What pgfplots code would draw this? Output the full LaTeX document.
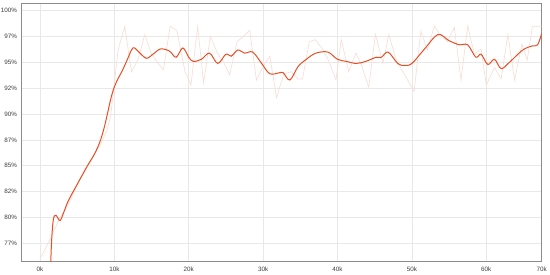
\documentclass[border=0pt]{standalone}
\usepackage{fontspec}
\setmainfont{Liberation Sans}
\usepackage{pgfplots}
\pgfplotsset{compat=1.18}

\definecolor{smoothline}{RGB}{232,78,36}
\definecolor{rawline}{RGB}{246,222,214}
\definecolor{gridc}{RGB}{232,232,232}
\definecolor{spine}{RGB}{140,140,140}
\definecolor{ticktext}{RGB}{60,60,60}

\begin{document}
\begin{tikzpicture}
\useasboundingbox (-21pt,-13.3pt) rectangle (529pt,261.7pt);
\begin{axis}[
    at={(0,0)}, anchor=south west,
    scale only axis,
    width=520.7pt, height=258.2pt,
    xmin=-2.55, xmax=67.45,
    ymin=75.72, ymax=100.7,
    xtick={0,10,20,30,40,50,60,67.45},
    xticklabels={0k,10k,20k,30k,40k,50k,60k,70k},
    ytick={77.5,80,82.5,85,87.5,90,92.5,95,97.5,100},
    yticklabels={77\%,80\%,82\%,85\%,87\%,90\%,92\%,95\%,97\%,100\%},
    major tick length=0pt,
    grid=major,
    major grid style={gridc, line width=0.6pt},
    axis line style={spine, line width=0.7pt},
    tick label style={font=\fontsize{6.3}{7}\selectfont, text=ticktext},
    xticklabel style={yshift=-1.5pt},
    yticklabel style={xshift=-0.5pt},
    clip=true,
]
% raw values
\addplot[rawline, line width=0.65pt] coordinates {
(0,76.0) (0.9,77.2) (1.8,78.6) (2.7,80.0) (3.6,81.0) (4.5,82.3) (5.4,83.7)
(6.3,84.8) (7.2,86.0) (8.1,87.0) (9.0,88.4) (9.5,89.8) (10.5,96.2) (11.4,98.5)
(12.3,94.1) (13.2,95.3) (14.1,97.7) (15.0,95.8) (15.8,95.0) (16.6,94.3)
(17.5,98.5) (18.4,98.1) (19.5,94.1) (20.3,92.8) (21.2,98.5) (22.0,93.0)
(22.9,97.5) (23.8,96.0) (24.7,95.0) (25.5,93.8) (26.5,97.0) (27.3,97.5)
(28.2,98.1) (29.1,93.3) (30.0,94.6) (30.9,95.6) (31.8,91.6) (32.8,93.9)
(33.8,94.1) (34.7,93.4) (35.3,93.4) (36.2,97.0) (37.0,97.2) (37.9,96.4)
(38.8,95.2) (39.8,93.3) (40.5,97.2) (41.5,94.1) (42.5,95.9) (43.3,94.6)
(44.2,92.6) (45.1,97.7) (46.1,94.9) (46.9,97.7) (47.9,95.2) (48.7,94.2)
(49.5,93.2) (50.3,92.2) (51.2,98.0) (52.1,96.2) (53.0,98.5) (53.9,97.6)
(54.8,97.0) (55.7,98.4) (56.6,93.3) (57.5,98.5) (58.4,95.8) (59.3,96.3)
(60.0,92.8) (61.1,94.5) (62.0,93.4) (62.9,97.7) (63.8,93.3) (64.8,96.8)
(65.5,95.2) (66.2,98.5) (67.45,98.5)
};
% smoothed values
\addplot[smoothline, line width=1.0pt, smooth, tension=0.55] coordinates {
(1.35,73.5) (1.55,77.5) (1.8,79.8) (2.15,80.2) (2.7,79.7) (3.2,80.5) (3.8,81.6)
(5.0,83.2) (6.3,84.9) (7.3,86.1) (8.05,87.3) (8.6,88.6) (9.0,89.8) (9.4,91.1)
(9.84,92.3) (10.4,93.3) (11.0,94.1) (11.7,95.2) (12.5,96.4) (13.3,96.0)
(14.3,95.4) (15.2,95.8) (16.2,96.3) (17.4,96.1) (18.3,95.5) (19.2,96.4)
(20.0,95.5) (20.6,95.1) (21.7,95.3) (22.8,95.9) (23.9,94.9) (25.0,95.8)
(25.7,95.6) (26.6,96.2) (27.5,95.9) (28.6,96.0) (29.8,94.9) (30.9,93.9)
(32.2,94.0) (32.7,94.0) (33.6,93.3) (34.7,94.6) (35.8,95.3) (37.1,95.9)
(38.7,96.0) (40.0,95.3) (41.2,95.1) (42.5,94.9) (43.8,95.1) (45.2,95.5)
(45.9,95.5) (46.8,96.0) (48.1,94.9) (49.0,94.7) (50.0,94.9) (51.7,96.3)
(53.5,97.7) (55.0,97.1) (56.4,96.7) (57.5,96.7) (58.6,95.5) (59.3,95.8)
(60.2,94.8) (61.1,95.3) (62.0,94.4) (63.1,95.0) (64.9,96.2) (66.2,96.6)
(66.9,96.7) (67.45,97.8)
};
\end{axis}
\end{tikzpicture}
\end{document}
